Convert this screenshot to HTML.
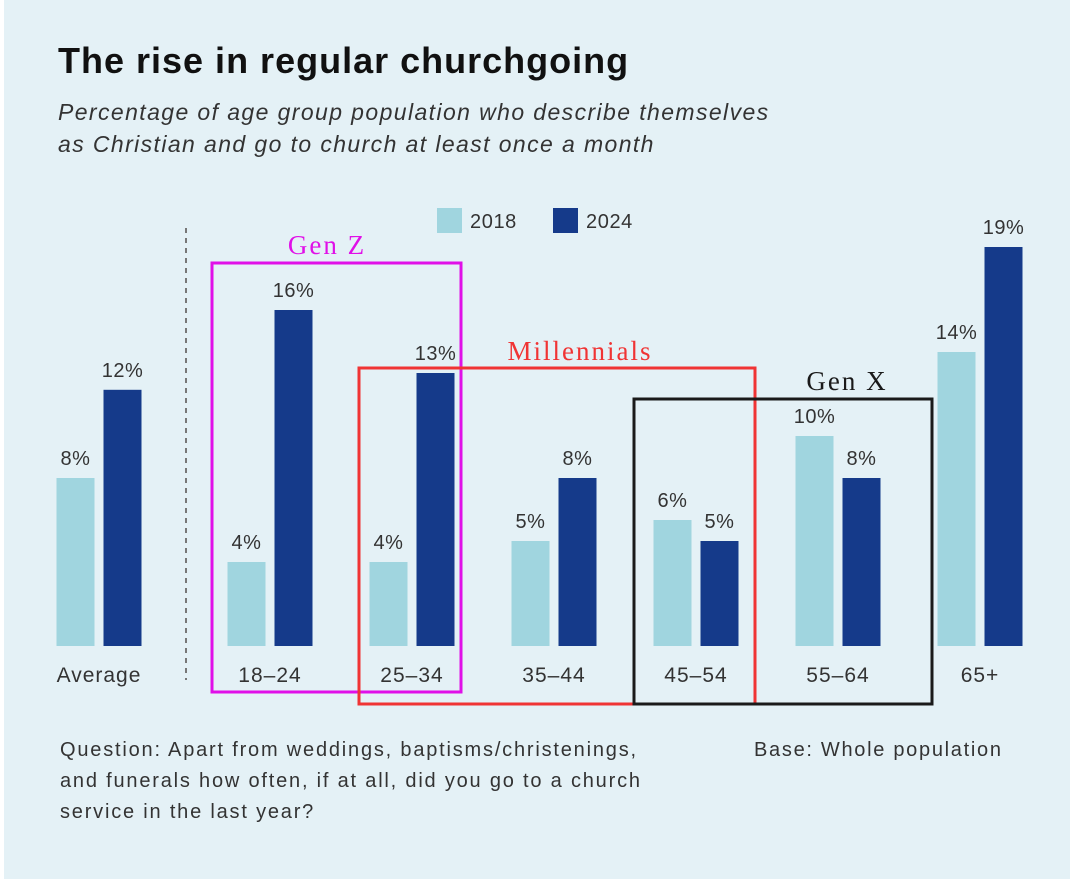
<!DOCTYPE html>
<html><head><meta charset="utf-8"><style>
html,body{margin:0;padding:0;}
body{width:1070px;height:879px;background:#fff;position:relative;overflow:hidden;font-family:"Liberation Sans","DejaVu Sans",sans-serif;}
#bg{position:absolute;left:4px;top:0;width:1066px;height:879px;background:#e4f1f6;}
.t{position:absolute;color:#222;white-space:nowrap;}
</style></head><body>
<div id="bg"></div>
<div class="t" style="left:58px;top:40px;font-size:36px;font-weight:bold;color:#111;letter-spacing:1px">The rise in regular churchgoing</div>
<div class="t" style="left:58px;top:96px;font-size:23px;font-style:italic;line-height:32px;color:#333;letter-spacing:1.4px">Percentage of age group population who describe themselves<br>as Christian and go to church at least once a month</div>
<svg id="c" width="1070" height="879" style="position:absolute;left:0;top:0"></svg>
<div class="t" style="left:60px;top:735px;font-size:20px;line-height:31px;color:#333;letter-spacing:1.8px">Question: Apart from weddings, baptisms/christenings,<br>and funerals how often, if at all, did you go to a church<br>service in the last year?</div>
<div class="t" style="left:754px;top:735px;font-size:20px;line-height:31px;color:#333;letter-spacing:1.7px">Base: Whole population</div>
<script>
const categories=["Average","18–24","25–34","35–44","45–54","55–64","65+"];
const values2018=[8,4,4,5,6,10,14];
const values2024=[12.2,16,13,8,5,8,19];
const labels2018=["8%","4%","4%","5%","6%","10%","14%"];
const labels2024=["12%","16%","13%","8%","5%","8%","19%"];
const seriesNames=["2018","2024"];
const NS="http://www.w3.org/2000/svg";
const svg=document.getElementById('c');
const base=646, perPct=21, bw=38, gap=9;
function y(v){return base-v*perPct;}
function gx(i){return i===0?99:270+142*(i-1);}
function mk(tag,attrs,parent){const e=document.createElementNS(NS,tag);for(const k in attrs)e.setAttribute(k,attrs[k]);(parent||svg).appendChild(e);return e;}
const dl=mk('line',{x1:186,y1:228,x2:186,y2:680,stroke:'#777','stroke-width':2,'stroke-dasharray':'5,5'});


const colors=["#a0d5df","#153a8a"];
const legX=[437,553];
seriesNames.forEach((s,k)=>{
  const r=mk('rect',{x:legX[k],y:208,width:25,height:25,fill:colors[k]});
  
  
  const t=mk('text',{x:legX[k]+33,y:228,'font-size':20,'letter-spacing':0.6,fill:'#333'});
  t.textContent=s;
  
  
});
categories.forEach((c,i)=>{
  const cx=gx(i);
  [[values2018,labels2018,cx-gap/2-bw,colors[0],'2018'],[values2024,labels2024,cx+gap/2,colors[1],'2024']].forEach(([vals,labs,x,col,s])=>{
    const v=vals[i];
    const r=mk('rect',{x:x,y:y(v),width:bw,height:base-y(v),fill:col});
    
    
    const t=mk('text',{x:x+bw/2,y:y(v)-13,'text-anchor':'middle','font-size':20,'letter-spacing':0.5,fill:'#333'});
    t.textContent=labs[i];
    
    
  });
  const t=mk('text',{x:cx,y:682,'text-anchor':'middle','font-size':21,'letter-spacing':1,fill:'#333'});
  t.textContent=c;
  
  
});
const boxes=[["Gen Z","#e010e8",212,263,461,692,327,254],["Millennials","#f03434",359,368,755,704,580,360],["Gen X","#1a1a1a",634,399,932,704,847,390]];
boxes.forEach(([n,col,x1,y1,x2,y2,lx,ly])=>{
  const r=mk('rect',{x:x1,y:y1,width:x2-x1,height:y2-y1,fill:'none',stroke:col,'stroke-width':3});
  
  
  const t=mk('text',{x:lx,y:ly,'text-anchor':'middle','font-size':27,'letter-spacing':2,fill:col,'font-family':'Liberation Serif, serif'});
  t.textContent=n;
  
  
});
</script>
</body></html>
